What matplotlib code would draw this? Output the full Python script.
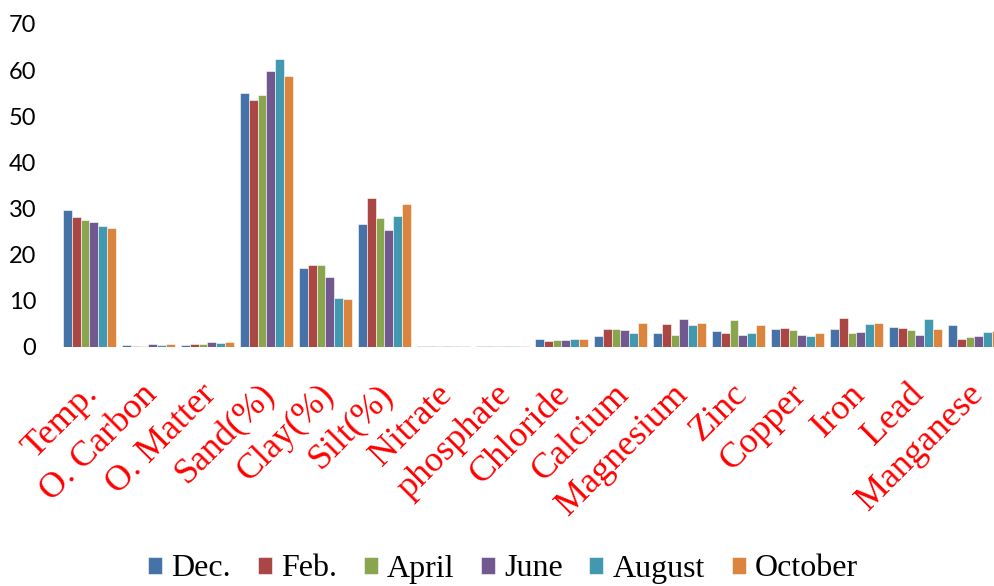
import matplotlib
matplotlib.use("Agg")
import matplotlib.pyplot as plt
import matplotlib.transforms as mtransforms
import numpy as np

categories = ["Temp.", "O. Carbon", "O. Matter", "Sand(%)", "Clay(%)", "Silt(%)",
              "Nitrate", "phosphate", "Chloride", "Calcium", "Magnesium", "Zinc",
              "Copper", "Iron", "Lead", "Manganese"]

dec = [29.7, 0.3, 0.4, 55.1, 17.1, 26.6, 0.05, 0.05, 1.6, 2.2, 3.0, 3.3, 3.8, 3.8, 4.3, 4.6]
feb = [28.2, 0.2, 0.6, 53.6, 17.6, 32.3, 0.05, 0.05, 1.2, 3.7, 4.8, 3.0, 4.1, 6.2, 4.1, 1.6]
april = [27.4, 0.2, 0.45, 54.5, 17.6, 27.9, 0.05, 0.05, 1.4, 3.7, 2.5, 5.7, 3.5, 2.9, 3.6, 2.0]
june = [27.1, 0.65, 1.0, 59.7, 15.0, 25.3, 0.05, 0.05, 1.4, 3.5, 5.9, 2.5, 2.6, 3.1, 2.5, 2.2]
august = [26.1, 0.4, 0.8, 62.4, 10.5, 28.4, 0.05, 0.05, 1.6, 2.9, 4.6, 3.0, 2.3, 4.8, 6.0, 3.1]
october = [25.8, 0.45, 0.93, 58.7, 10.3, 31.0, 0.05, 0.05, 1.6, 5.2, 5.1, 4.6, 2.9, 5.1, 3.8, 3.3]

series_names = ["Dec.", "Feb.", "April", "June", "August", "October"]
series_values = [dec, feb, april, june, august, october]
colors = ["#4572A7", "#AA4643", "#89A54E", "#71588F", "#4198AF", "#DB843D"]

fig = plt.figure(figsize=(9.95, 5.86), dpi=100)
ax = fig.add_axes([60 / 995, 1 - 346.5 / 586, 944 / 995, (346.5 - 24) / 586])

x = np.arange(len(categories))
group_w = 0.89
bar_w = group_w / len(series_names)
for i, (name, vals, c) in enumerate(zip(series_names, series_values, colors)):
    offs = -group_w / 2 + bar_w * (i + 0.5)
    ax.bar(x + offs, vals, width=bar_w, color=c, label=name,
           edgecolor="white", linewidth=0.4)

ax.set_xlim(-0.5, len(categories) - 0.5)
ax.set_ylim(0, 70)
ax.set_yticks(range(0, 71, 10))
ax.tick_params(axis="y", length=0, pad=17, labelsize=17)
for lab in ax.get_yticklabels():
    lab.set_fontfamily("Lato")
ax.set_xticks(x)
ax.set_xticklabels(categories, rotation=45, ha="right", va="top",
                   rotation_mode="anchor", color="red",
                   fontfamily="Liberation Serif", fontsize=26)
ax.tick_params(axis="x", length=0, pad=14)
shift = mtransforms.ScaledTranslation(-8 / 100, -12 / 100, fig.dpi_scale_trans)
for lab in ax.get_xticklabels():
    lab.set_transform(lab.get_transform() + shift)
for s in ax.spines.values():
    s.set_visible(False)

fig.legend(loc="center", bbox_to_anchor=(503 / 995, 1 - 569 / 586), ncol=6,
           frameon=False, prop={"family": "Liberation Serif", "size": 23},
           handlelength=0.44, handleheight=0.44, handletextpad=0.28,
           columnspacing=0.84)

fig.savefig("out.png", dpi=100)
